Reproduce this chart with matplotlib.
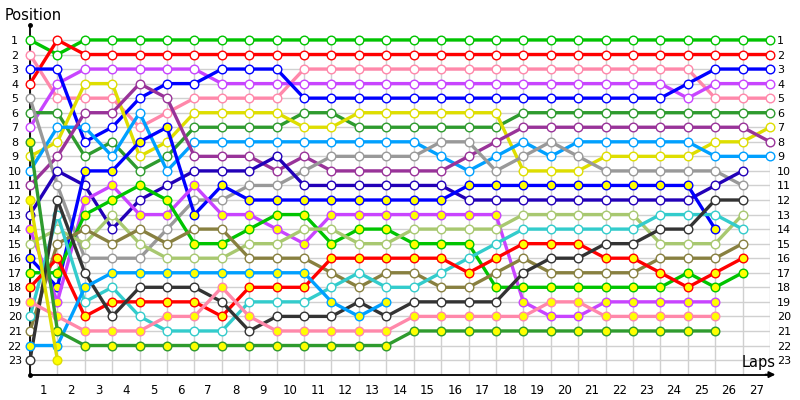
import numpy as np
import matplotlib.pyplot as plt

laps = list(range(28))
lap_labels = [str(k) for k in range(1, 28)]
positions = list(range(1, 24))

# position of each car after every lap (lap 0 = grid), None = retired
green_a = [1, 2, 1, 1, 1, 1, 1, 1, 1, 1, 1, 1, 1, 1, 1, 1, 1, 1, 1, 1, 1, 1, 1, 1, 1, 1, 1, 1]
red_a = [4, 1, 2, 2, 2, 2, 2, 2, 2, 2, 2, 2, 2, 2, 2, 2, 2, 2, 2, 2, 2, 2, 2, 2, 2, 2, 2, 2]
pink_a = [2, 5, 5, 5, 7, 6, 5, 5, 5, 5, 3, 3, 3, 3, 3, 3, 3, 3, 3, 3, 3, 3, 3, 3, 3, 5, 5, 5]
violet_a = [7, 4, 3, 3, 3, 3, 3, 4, 4, 4, 4, 4, 4, 4, 4, 4, 4, 4, 4, 4, 4, 4, 4, 4, 5, 4, 4, 4]
blue_a = [3, 3, 8, 7, 5, 4, 4, 3, 3, 3, 5, 5, 5, 5, 5, 5, 5, 5, 5, 5, 5, 5, 5, 5, 4, 3, 3, 3]
dkgreen_a = [6, 6, 9, 8, 10, 9, 7, 7, 7, 7, 6, 6, 7, 7, 7, 7, 7, 7, 6, 6, 6, 6, 6, 6, 6, 6, 6, 6]
yellow_a = [9, 8, 4, 4, 9, 8, 6, 6, 6, 6, 7, 7, 6, 6, 6, 6, 6, 6, 10, 10, 10, 9, 9, 9, 9, 8, 8, 7]
azure_a = [10, 7, 7, 9, 6, 10, 8, 8, 8, 8, 8, 8, 8, 8, 8, 9, 10, 9, 8, 9, 8, 8, 8, 8, 8, 9, 9, 9]
purple_a = [11, 9, 6, 6, 4, 5, 9, 9, 9, 10, 9, 10, 10, 10, 10, 10, 9, 8, 7, 7, 7, 7, 7, 7, 7, 7, 7, 8]
gray_a = [5, 11, 16, 16, 16, 14, 12, 12, 11, 11, 10, 9, 9, 9, 9, 8, 8, 10, 9, 8, 9, 10, 10, 10, 10, 10, 11, None]
navy_a = [13, 10, 11, 14, 12, 11, 10, 10, 10, 9, 11, 11, 11, 11, 11, 11, 12, 12, 12, 12, 12, 12, 12, 12, 12, 11, 10, None]
blue_b = [16, 18, 10, 10, 8, 7, 13, 11, 12, 12, 12, 12, 12, 12, 12, 12, 11, 11, 11, 11, 11, 11, 11, 11, 11, 14, None, None]
violet_b = [14, 19, 12, 11, 13, 13, 11, 13, 13, 14, 15, 13, 13, 13, 13, 13, 13, 13, 19, 20, 20, 19, 19, 19, 19, 19, None, None]
green_b = [17, 17, 13, 12, 11, 12, 15, 15, 14, 13, 13, 15, 14, 14, 15, 15, 15, 18, 18, 18, 18, 18, 18, 18, 17, 18, 17, None]
ltgreen_a = [15, 14, 15, 13, 15, 16, 16, 16, 15, 15, 14, 14, 15, 15, 14, 14, 14, 14, 13, 13, 13, 13, 13, 15, 15, 15, 13, None]
olive_a = [21, 15, 14, 15, 14, 15, 14, 14, 16, 16, 16, 17, 18, 17, 17, 18, 18, 17, 16, 17, 17, 17, 17, 16, 16, 16, 15, None]
teal_a = [20, 13, 19, 18, 20, 21, 21, 21, 19, 19, 19, 18, 17, 18, 18, 17, 16, 15, 14, 14, 14, 14, 14, 13, 13, 13, 14, None]
red_b = [18, 16, 20, 19, 19, 19, 19, 20, 18, 18, 18, 16, 16, 16, 16, 16, 17, 16, 15, 15, 15, 16, 16, 17, 18, 17, 16, None]
black_a = [23, 12, 17, 20, 18, 18, 18, 19, 21, 20, 20, 20, 19, 20, 19, 19, 19, 19, 17, 16, 16, 15, 15, 14, 14, 12, 12, None]
azure_b = [22, 22, 18, 17, 17, 17, 17, 17, 17, 17, 17, 19, 20, 19, None, None, None, None, None, None, None, None, None, None, None, None, None, None]
pink_b = [19, 20, 21, 21, 21, 20, 20, 18, 20, 21, 21, 21, 21, 21, 20, 20, 20, 20, 20, 19, 19, 20, 20, 20, 20, 20, None, None]
dkgreen_b = [8, 21, 22, 22, 22, 22, 22, 22, 22, 22, 22, 22, 22, 22, 21, 21, 21, 21, 21, 21, 21, 21, 21, 21, 21, 21, None, None]
yellow_b = [12, 23, None, None, None, None, None, None, None, None, None, None, None, None, None, None, None, None, None, None, None, None, None, None, None, None, None, None]

GREEN, RED, PINK, VIOLET = '#00c400', '#ff0000', '#ff88aa', '#c844ff'
BLUE, DKGREEN, YELLOW, AZURE = '#0000ff', '#2e9b2e', '#dede00', '#00a0ff'
PURPLE, GRAY, NAVY, LTGREEN = '#993399', '#999999', '#2200b8', '#a8c870'
OLIVE, TEAL, BLACK = '#888040', '#33cccc', '#333333'

cars = [
    (green_a, GREEN, False), (red_a, RED, False), (pink_a, PINK, False),
    (violet_a, VIOLET, False), (blue_a, BLUE, False), (dkgreen_a, DKGREEN, False),
    (yellow_a, YELLOW, False), (azure_a, AZURE, False), (purple_a, PURPLE, False),
    (gray_a, GRAY, False), (navy_a, NAVY, False), (blue_b, BLUE, True),
    (violet_b, VIOLET, True), (green_b, GREEN, True), (ltgreen_a, LTGREEN, False),
    (olive_a, OLIVE, False), (teal_a, TEAL, False), (red_b, RED, True),
    (black_a, BLACK, False), (azure_b, AZURE, True), (pink_b, PINK, True),
    (dkgreen_b, DKGREEN, True), (yellow_b, YELLOW, True),
]

fig = plt.figure(figsize=(8, 4), dpi=100)
ax = fig.add_axes([30 / 800, 1 - 374.6 / 400, 740 / 800, 349.2 / 400])
ax.set_xlim(0, 27)
ax.set_ylim(24, 0)

# grid
ax.vlines(laps, 1, 24, color='#d0d0d0', lw=1, zorder=0)
ax.hlines(positions, 0, 27, color='#d0d0d0', lw=1, zorder=0)

for pos, col, filled in cars:
    y = np.array(pos, dtype=float)
    ax.plot(laps, y, color=col, lw=2.4, marker='o', ms=6.2,
            mfc='#ffff00' if filled else 'white', mec=col, mew=1.0,
            clip_on=False, zorder=3)

for s in ['top', 'right']:
    ax.spines[s].set_visible(False)
ax.spines['left'].set_linewidth(1.3)
ax.spines['bottom'].set_linewidth(1.3)

ax.set_yticks(positions)
ax.set_yticklabels([str(p) for p in positions])
ax.tick_params(axis='y', length=0, pad=11, labelsize=8)
for t in ax.get_yticklabels():
    t.set_horizontalalignment('center')

sec = ax.secondary_yaxis('right')
sec.set_yticks(positions)
sec.set_yticklabels([str(p) for p in positions])
sec.tick_params(length=0, pad=5, labelsize=8)
sec.spines['right'].set_visible(False)

ax.set_xticks(np.arange(0.5, 27, 1))
ax.set_xticklabels(lap_labels)
ax.tick_params(axis='x', length=0, pad=7, labelsize=8.5)

ax.annotate('', xy=(1.011, 0), xytext=(0.99, 0), xycoords='axes fraction',
            arrowprops=dict(arrowstyle='-|>', color='black', lw=1.3,
                            mutation_scale=9), annotation_clip=False)
ax.plot([0, 0], [0, 24], 'ko', ms=2.5, clip_on=False, zorder=5)

fig.text(5 / 800, 1 - 15 / 400, 'Position', fontsize=10.5, va='center', ha='left')
fig.text(759 / 800, 1 - 362 / 400, 'Laps', fontsize=10.5, va='center', ha='center')

fig.savefig('out.png', dpi=100)
